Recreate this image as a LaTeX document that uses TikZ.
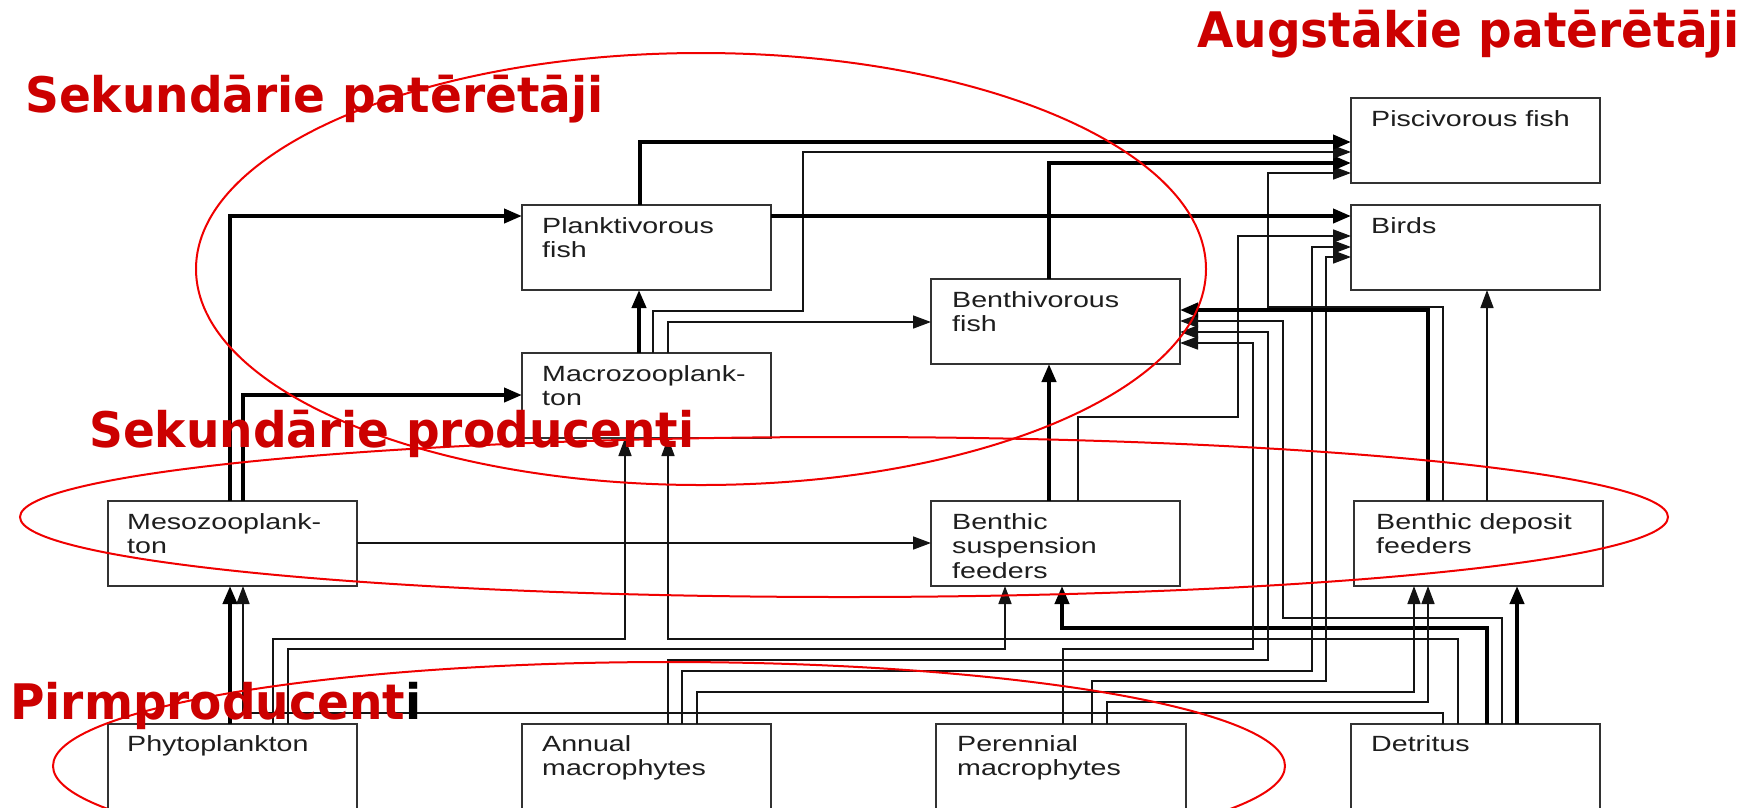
\documentclass[tikz,border=0pt]{standalone}
\usepackage{fontspec}
\usetikzlibrary{arrows.meta}
\newfontfamily\boxfont[FakeStretch=1.3]{Liberation Sans}
\newfontfamily\lblfont[FakeStretch=0.96]{DejaVu Sans}
\definecolor{lblred}{RGB}{204,0,0}
\definecolor{ellred}{RGB}{240,0,0}
\definecolor{boxgray}{RGB}{50,50,50}
\definecolor{txtgray}{RGB}{30,30,30}
\definecolor{linegray}{RGB}{20,20,20}
\begin{document}
\begin{tikzpicture}[x=1pt,y=-1pt,
  box/.style={draw=boxgray,line width=1.5pt,fill=white,minimum width=249pt,minimum height=85pt,anchor=north west,inner sep=0pt,outer sep=0pt},
  boxtext/.style={anchor=north west,inner sep=0pt,align=left,text=txtgray,font=\boxfont\fontsize{22}{24.5}\selectfont},
  thinflow/.style={draw=linegray,line width=1.6pt,-{Triangle[length=18pt,width=13pt]}},
  thickflow/.style={draw=black,line width=4pt,-{Triangle[length=18pt,width=14pt]}},
  group/.style={draw=ellred,line width=2pt},
  grouplabel/.style={anchor=base west,inner sep=0pt,text=lblred,font=\lblfont\bfseries\fontsize{49}{55}\selectfont}]
\useasboundingbox (0,0) rectangle (1752,807);
\clip (0,0) rectangle (1752,807);
\fill[white] (0,0) rectangle (1752,807);
% boxes
\node[box] (pisc) at (1351,98) {};
\node[box] (plank) at (522,205) {};
\node[box] (birds) at (1351,205) {};
\node[box] (bfish) at (931,279) {};
\node[box] (macro) at (522,353) {};
\node[box] (meso) at (108,501) {};
\node[box] (bsusp) at (931,501) {};
\node[box] (bdep) at (1354,501) {};
\node[box,minimum height=86pt] (phyto) at (108,724) {};
\node[box,minimum height=86pt] (annual) at (522,724) {};
\node[box,minimum height=86pt,minimum width=250pt] (peren) at (936,724) {};
\node[box,minimum height=86pt] (detr) at (1351,724) {};
% box texts
\node[boxtext] (tpisc) at (1371,110) {Piscivorous fish};
\node[boxtext] (tplank) at (542,217) {Planktivorous\\fish};
\node[boxtext] (tbirds) at (1371,217) {Birds};
\node[boxtext] (tbfish) at (952,291) {Benthivorous\\fish};
\node[boxtext] (tmacro) at (542,365) {Macrozooplank-\\ton};
\node[boxtext] (tmeso) at (127,513) {Mesozooplank-\\ton};
\node[boxtext] (tbsusp) at (952,513) {Benthic\\suspension\\feeders};
\node[boxtext] (tbdep) at (1376,513) {Benthic deposit\\feeders};
\node[boxtext] (tphyto) at (127,735) {Phytoplankton};
\node[boxtext] (tannual) at (542,735) {Annual\\macrophytes};
\node[boxtext] (tperen) at (957,735) {Perennial\\macrophytes};
\node[boxtext] (tdetr) at (1371,735) {Detritus};
% flows
\draw[thickflow] (phyto.north -| 230,0) -- (meso.south -| 230,0);
\draw[thinflow] (detr.north -| 1443,0) |- (243,713) -- (meso.south -| 243,0);
\draw[thickflow] (meso.north -| 230,0) |- (plank.west |- 0,216);
\draw[thickflow] (meso.north -| 243,0) |- (macro.west |- 0,395);
\draw[thinflow] (meso.east |- 0,543) -- (bsusp.west |- 0,543);
\draw[thinflow] (phyto.north -| 273,0) |- (625,639) -- (macro.south -| 625,0);
\draw[thinflow] (phyto.north -| 288,0) |- (1005,649) -- (bsusp.south -| 1005,0);
\draw[thinflow] (detr.north -| 1458,0) |- (668,639) -- (macro.south -| 668,0);
\draw[thickflow] (detr.north -| 1487,0) |- (1062,628) -- (bsusp.south -| 1062,0);
\draw[thinflow] (detr.north -| 1502,0) |- (1283,618) |- (bfish.east |- 0,321);
\draw[thickflow] (detr.north -| 1517,0) -- (bdep.south -| 1517,0);
\draw[thinflow] (annual.north -| 668,0) |- (1268,660) |- (bfish.east |- 0,332);
\draw[thinflow] (annual.north -| 682,0) |- (1312,671) |- (birds.west |- 0,247);
\draw[thinflow] (annual.north -| 697,0) |- (1414,692) -- (bdep.south -| 1414,0);
\draw[thinflow] (peren.north -| 1063,0) |- (1253,649) |- (bfish.east |- 0,343);
\draw[thinflow] (peren.north -| 1092,0) |- (1326,681) |- (birds.west |- 0,257);
\draw[thinflow] (peren.north -| 1107,0) |- (1428,702) -- (bdep.south -| 1428,0);
\draw[thickflow] (bsusp.north -| 1049,0) -- (bfish.south -| 1049,0);
\draw[thinflow] (bsusp.north -| 1078,0) |- (1238,417) |- (birds.west |- 0,236);
\draw[thickflow] (bdep.north -| 1428,0) |- (bfish.east |- 0,310);
\draw[thinflow] (bdep.north -| 1443,0) |- (1268,307) |- (pisc.west |- 0,173);
\draw[thinflow] (bdep.north -| 1487,0) -- (birds.south -| 1487,0);
\draw[thickflow] (bfish.north -| 1049,0) |- (pisc.west |- 0,163);
\draw[thickflow] (macro.north -| 639,0) -- (plank.south -| 639,0);
\draw[thinflow] (macro.north -| 653,0) |- (803,311) |- (pisc.west |- 0,152);
\draw[thinflow] (macro.north -| 668,0) |- (bfish.west |- 0,322);
\draw[thickflow] (plank.north -| 640,0) |- (pisc.west |- 0,142);
\draw[thickflow] (plank.east |- 0,216) -- (birds.west |- 0,216);
% groups
\draw[group] (701,269) ellipse [x radius=505pt, y radius=216pt];
\draw[group] (844,517) ellipse [x radius=824pt, y radius=80pt];
\draw[group] (669,766) ellipse [x radius=616pt, y radius=104pt];
\node[grouplabel] (lA) at (1197,47) {Augstākie patērētāji};
\node[grouplabel] (lS) at (25,112) {Sekundārie patērētāji};
\node[grouplabel] (lP) at (89,447) {Sekundārie producenti};
\node[grouplabel] (lR) at (10,719) {Pirmproducent\textcolor{black}{i}};
\end{tikzpicture}
\end{document}
